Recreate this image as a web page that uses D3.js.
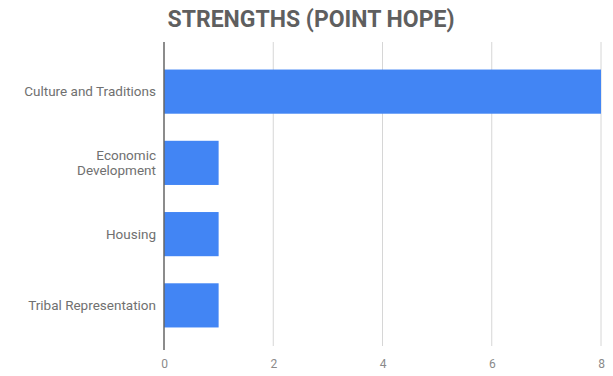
<!DOCTYPE html>
<html>
<head>
<meta charset="utf-8">
<script src="https://cdn.jsdelivr.net/npm/d3@7"></script>
<style>
  html, body { margin: 0; padding: 0; background: #fff; }
  svg { display: block; font-family: Roboto, "Noto Sans", sans-serif; }
</style>
</head>
<body>
<svg id="chart" width="613" height="376"></svg>
<script>
// Survey responses: community strengths named for Point Hope
const categories = ["Culture and Traditions", "Economic\nDevelopment", "Housing", "Tribal Representation"];
const counts = [8, 1, 1, 1];
const tickValues = [0, 2, 4, 6, 8];
const titleText = "STRENGTHS (POINT HOPE)";

const svg = d3.select("#chart");
const plot = { left: 164, right: 601, top: 42, bottom: 350 };

const x = d3.scaleLinear().domain([0, 8]).range([plot.left, plot.right]);
const y = d3.scaleBand()
  .domain(categories)
  .range([56, 341])
  .paddingInner(0.38)
  .paddingOuter(0.19);

// Title
svg.append("text")
  .attr("x", 311)
  .attr("y", 27)
  .attr("text-anchor", "middle")
  .attr("font-size", 23)
  .attr("font-weight", 700)
  .attr("fill", "#5f5f5f")
  .text(titleText);

// Vertical gridlines (values other than zero)
svg.append("g")
  .selectAll("line")
  .data(tickValues.filter(d => d !== 0))
  .join("line")
  .attr("x1", d => x(d)).attr("x2", d => x(d))
  .attr("y1", plot.top).attr("y2", plot.bottom - 4)
  .attr("stroke", "#d6d6d6")
  .attr("stroke-width", 1);

// Bars
svg.append("g")
  .selectAll("rect")
  .data(categories.map((c, i) => ({ c, v: counts[i] })))
  .join("rect")
  .attr("x", x(0))
  .attr("y", d => y(d.c))
  .attr("width", d => x(d.v) - x(0))
  .attr("height", y.bandwidth())
  .attr("fill", "#4285f4");

// Baseline axis at zero
svg.append("line")
  .attr("x1", x(0)).attr("x2", x(0))
  .attr("y1", plot.top).attr("y2", plot.bottom)
  .attr("stroke", "#666")
  .attr("stroke-width", 1.5);

// X tick labels
const xAxis = d3.axisBottom(x).tickValues(tickValues).tickSize(0).tickPadding(0).tickFormat(d3.format("d"));
const gx = svg.append("g").attr("transform", `translate(0,${plot.bottom + 9})`).call(xAxis);
gx.select(".domain").remove();
gx.selectAll("text")
  .attr("dy", "0.71em")
  .attr("font-family", "Roboto, sans-serif")
  .attr("font-size", 12)
  .attr("fill", "#8a8a8a");

// Category labels, right-aligned against the axis; each line is its own text
const gy = svg.append("g");
categories.forEach(c => {
  const lines = c.split("\n");
  const cy = y(c) + y.bandwidth() / 2;
  const lh = 15.5;
  lines.forEach((ln, i) => {
    gy.append("text")
      .attr("text-anchor", "end")
      .attr("font-size", 13.5)
      .attr("fill", "#707070")
      .attr("x", 156)
      .attr("y", cy + (i - (lines.length - 1) / 2) * lh)
      .attr("dy", "0.35em")
      .text(ln);
  });
});
</script>
</body>
</html>
